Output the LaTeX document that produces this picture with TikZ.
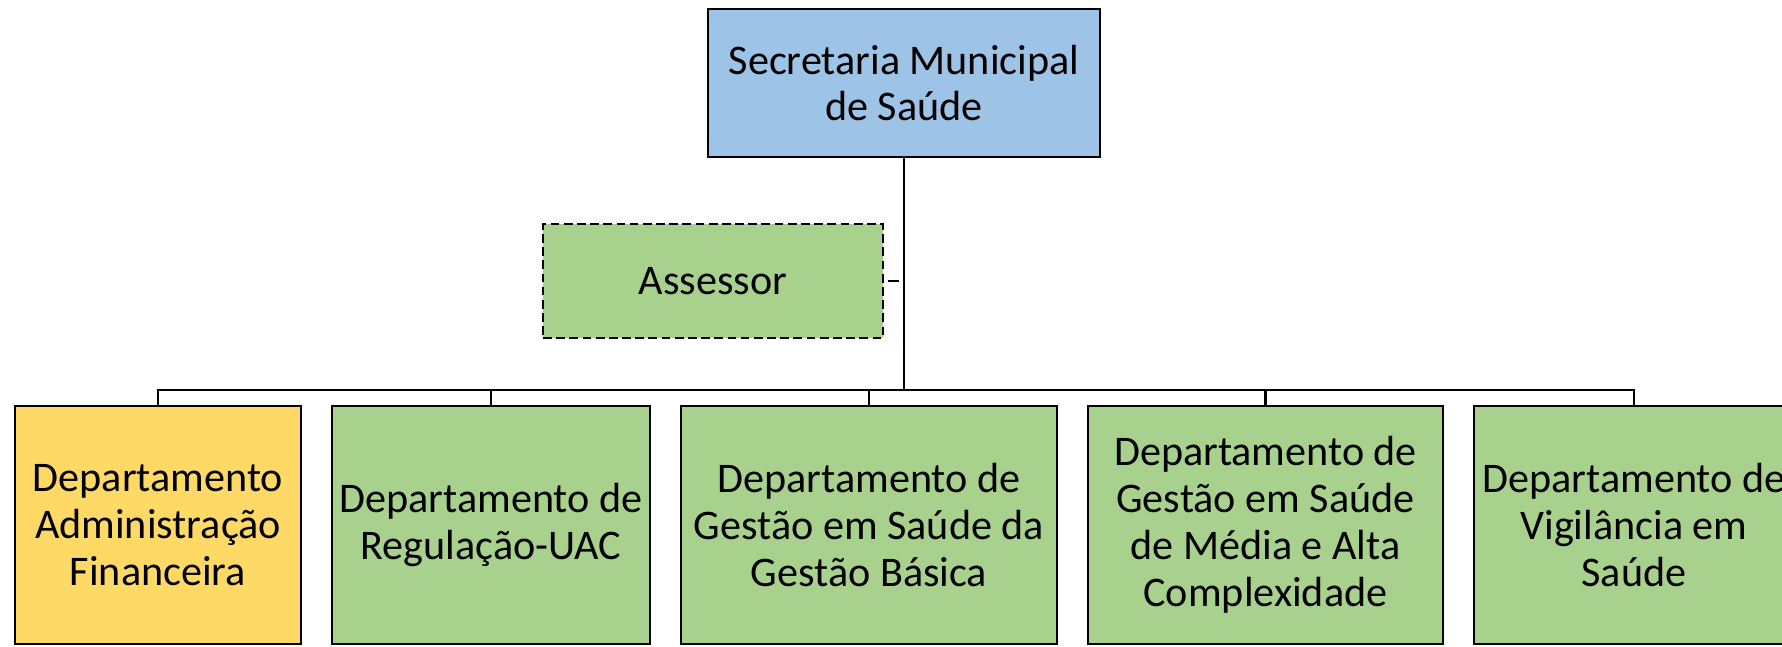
\documentclass[tikz,border=0pt]{standalone}
\usepackage{xcolor}
\usepackage{fontspec}
\setmainfont{Carlito}
\usetikzlibrary{positioning,calc}

\definecolor{secblue}{HTML}{9DC3E6}
\definecolor{depgreen}{HTML}{A9D18E}
\definecolor{depyellow}{HTML}{FFD966}

\begin{document}
\begin{tikzpicture}[
    box/.style={draw=black, line width=1.2pt, align=center, inner sep=0pt,
        font=\fontsize{24}{26.7}\selectfont},
    secbox/.style={box, fill=secblue, minimum width=7.84cm, minimum height=2.96cm},
    assbox/.style={box, fill=depgreen, dash pattern=on 5pt off 2.5pt,
        minimum width=6.8cm, minimum height=2.28cm},
    depbox/.style={box, fill=depgreen, minimum height=4.76cm},
    link/.style={draw=black, line width=1.5pt}
]
    \useasboundingbox (0,0) rectangle (35.64,12.92);

    \node[secbox] (sec) at (18.08,11.26) {Secretaria Municipal\\de Saúde};
    \node[assbox] (ass) at (14.26,7.3) {Assessor};

    \node[depbox, fill=depyellow, minimum width=5.72cm] (d1) at (3.16,2.42)
        {Departamento\\Administração\\Financeira};
    \node[depbox, minimum width=6.36cm] (d2) at (9.82,2.42)
        {Departamento de\\Regulação-UAC};
    \node[depbox, minimum width=7.52cm] (d3) at (17.38,2.42)
        {Departamento de\\Gestão em Saúde da\\Gestão Básica};
    \node[depbox, minimum width=7.1cm] (d4) at (25.31,2.42)
        {Departamento de\\Gestão em Saúde\\de Média e Alta\\Complexidade};
    \node[depbox, minimum width=6.4cm] (d5) at (32.68,2.42)
        {Departamento de\\Vigilância em\\Saúde};

    \coordinate (bus) at (0,5.12);
    \foreach \d in {d1,d2,d3,d4,d5}
        \draw[link] (sec.south) -- (sec.south |- bus) -| (\d.north);

    \draw[link, line width=1pt] ([xshift=0.08cm]ass.east) -- ([xshift=0.3cm]ass.east);
\end{tikzpicture}
\end{document}
